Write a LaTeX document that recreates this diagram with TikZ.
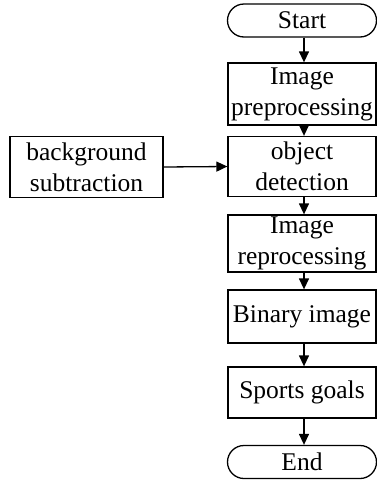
\documentclass[tikz,border=0pt]{standalone}
\usepackage{fontspec}
\setmainfont{Liberation Serif}
\usetikzlibrary{arrows.meta,shapes.misc}
\begin{document}
\begin{tikzpicture}[x=1pt,y=-1pt,
  box/.style={draw, line width=1.3pt, rectangle, minimum width=148pt, inner sep=0pt, align=center, font=\fontsize{25.5}{31}\selectfont},
  term/.style={box, rounded rectangle, minimum width=149pt, minimum height=33pt},
  arr/.style={line width=1.3pt, -{Triangle[length=11pt,width=10pt]}}
]
\useasboundingbox (0,0) rectangle (376,480);
\node[term] (start) at (302,20.5) {Start};
\node[box, minimum height=62pt] (pre) at (302,94) {Image\\preprocessing};
\node[box, minimum height=60pt] (obj) at (302,166.5) {object\\detection};
\node[box, minimum height=57pt] (rep) at (302,243.5) {Image\\reprocessing};
\node[box, minimum height=53pt] (bin) at (302,316.5) {Binary image};
\node[box, minimum height=51pt] (spo) at (302,392.5) {Sports goals};
\node[term] (end) at (302,462) {End};
\node[box, minimum width=153pt, minimum height=61pt] (bg) at (86.5,167) {background\\subtraction};
\draw[arr] ([xshift=2pt]start.south) -- ([xshift=2pt]pre.north);
\draw[arr] ([xshift=2pt]pre.south) -- ([xshift=2pt]obj.north);
\draw[arr] ([xshift=2pt]obj.south) -- ([xshift=2pt]rep.north);
\draw[arr] ([xshift=2pt]rep.south) -- ([xshift=2pt]bin.north);
\draw[arr] ([xshift=2pt]bin.south) -- ([xshift=2pt]spo.north);
\draw[arr] ([xshift=2pt]spo.south) -- ([xshift=2pt]end.north);
\draw[arr] (bg.east) -- (obj.west);
\end{tikzpicture}
\end{document}
